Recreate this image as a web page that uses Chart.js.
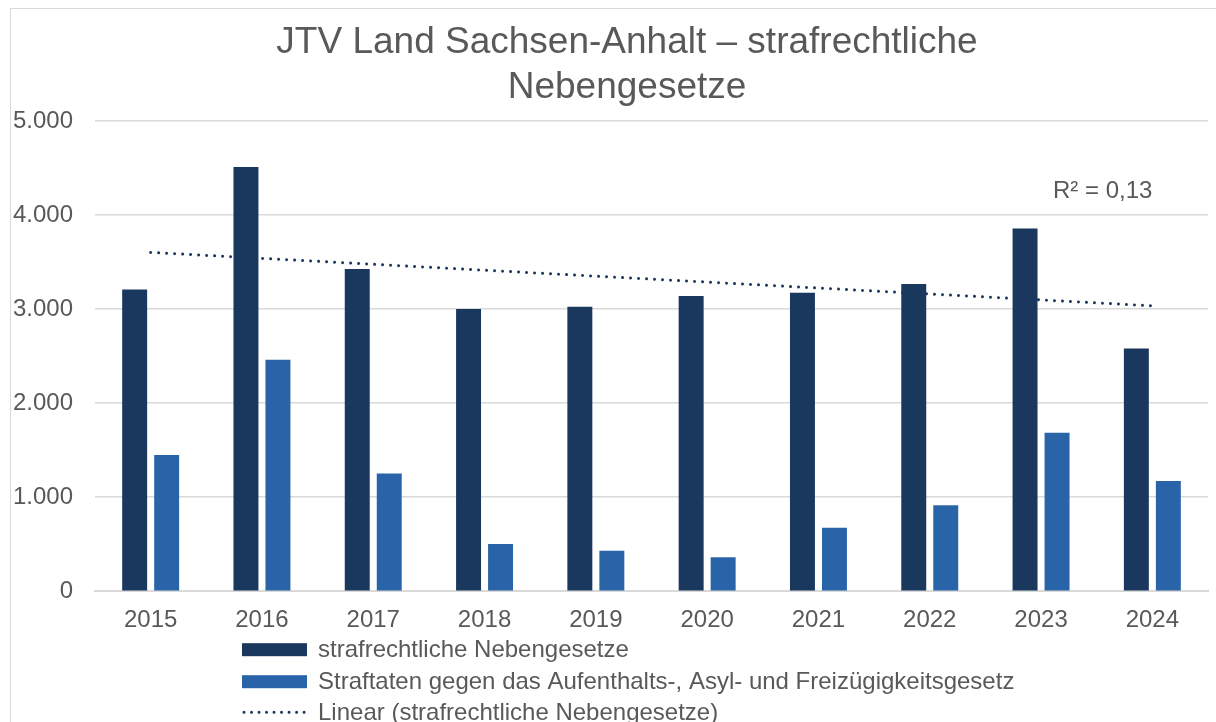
<!DOCTYPE html>
<html lang="de">
<head>
<meta charset="utf-8">
<title>JTV Land Sachsen-Anhalt</title>
<script src="https://cdn.jsdelivr.net/npm/chart.js@4/dist/chart.umd.min.js"></script>
<style>
  html, body { margin: 0; padding: 0; background: #fff; }
  #wrap { width: 1216px; height: 722px; }
</style>
</head>
<body>
<div id="wrap"><canvas id="jtvChart" width="1216" height="722"></canvas></div>
<script>
// Daten
const years = ['2015', '2016', '2017', '2018', '2019', '2020', '2021', '2022', '2023', '2024'];
const nebengesetze = [3209, 4511, 3426, 3002, 3024, 3138, 3173, 3266, 3856, 2580];
const aufenthaltsgesetz = [1448, 2462, 1252, 502, 430, 360, 676, 915, 1686, 1171];
const yTicks = [0, 1000, 2000, 3000, 4000, 5000];

const titleLines = ['JTV Land Sachsen-Anhalt – strafrechtliche', 'Nebengesetze'];
const seriesNames = [
    'strafrechtliche Nebengesetze',
    'Straftaten gegen das Aufenthalts-, Asyl- und Freizügigkeitsgesetz',
    'Linear (strafrechtliche Nebengesetze)'
];

const FONT = "'Liberation Sans', Arial, sans-serif";
const TEXT = '#595959';
const DARK = '#1a375e';
const BLUE = '#2a64a8';

// lineare Trendlinie (kleinste Quadrate) aus der Datenreihe
function linearFit(ys) {
    const n = ys.length;
    const mx = (n - 1) / 2;
    const my = ys.reduce((a, b) => a + b, 0) / n;
    let sxy = 0, sxx = 0, sst = 0;
    ys.forEach((y, i) => {
        sxy += (i - mx) * (y - my);
        sxx += (i - mx) * (i - mx);
        sst += (y - my) * (y - my);
    });
    const slope = sxy / sxx;
    const r2 = (sxy * sxy / sxx) / sst;
    return { values: ys.map((_, i) => my + slope * (i - mx)), r2: r2 };
}
const trend = linearFit(nebengesetze);

function formatDE(v) {
    return String(v).replace(/\B(?=(\d{3})+(?!\d))/g, '.');
}

// Rahmen, Titel, R²-Beschriftung und Legende
const extrasPlugin = {
    id: 'extras',
    beforeDraw(chart) {
        const ctx = chart.ctx;
        ctx.save();
        ctx.strokeStyle = '#d9d9d9';
        ctx.lineWidth = 1;
        ctx.strokeRect(10.5, 8.5, chart.width + 20, chart.height + 20);
        ctx.restore();
    },
    afterDraw(chart) {
        const ctx = chart.ctx;
        const area = chart.chartArea;
        ctx.save();

        // Titel
        ctx.fillStyle = TEXT;
        ctx.font = '37px ' + FONT;
        ctx.textAlign = 'center';
        ctx.textBaseline = 'middle';
        titleLines.forEach((line, i) => {
            ctx.fillText(line, 627, 43 + i * 44.5);
        });

        ctx.font = '24px ' + FONT;
        ctx.textBaseline = 'alphabetic';
        ctx.textAlign = 'left';
        ctx.fillText('R² = ' + trend.r2.toFixed(2).replace('.', ','), 1053, 198);

        // Legende untereinander
        const left = 242;
        const rows = [area.bottom + 58, area.bottom + 90, area.bottom + 121];
        chart.data.datasets.forEach((ds, i) => {
            const y = rows[i];
            if (ds.type === 'line') {
                ctx.strokeStyle = ds.borderColor;
                ctx.lineWidth = 3;
                ctx.lineCap = 'round';
                ctx.setLineDash([0.01, 7.5]);
                ctx.beginPath();
                ctx.moveTo(left + 2, y);
                ctx.lineTo(left + 64, y);
                ctx.stroke();
                ctx.setLineDash([]);
            } else {
                ctx.fillStyle = ds.backgroundColor;
                ctx.fillRect(left, y - 6, 65, 13);
            }
            ctx.fillStyle = TEXT;
            ctx.textBaseline = 'middle';
            ctx.fillText(ds.label, left + 76, y + 1);
        });
        ctx.restore();
    }
};

const ctx = document.getElementById('jtvChart').getContext('2d');
new Chart(ctx, {
    type: 'bar',
    data: {
        labels: years,
        datasets: [
            {
                label: seriesNames[0],
                data: nebengesetze,
                backgroundColor: DARK,
                categoryPercentage: 0.575,
                barPercentage: 0.78,
                order: 1
            },
            {
                label: seriesNames[1],
                data: aufenthaltsgesetz,
                backgroundColor: BLUE,
                categoryPercentage: 0.575,
                barPercentage: 0.78,
                order: 1
            },
            {
                type: 'line',
                label: seriesNames[2],
                data: trend.values,
                borderColor: DARK,
                borderWidth: 3,
                borderDash: [0.01, 8],
                borderCapStyle: 'round',
                pointRadius: 0,
                fill: false,
                order: 2
            }
        ]
    },
    options: {
        responsive: false,
        animation: false,
        layout: {
            padding: { left: 13, right: 8, top: 121, bottom: 73 }
        },
        plugins: {
            legend: { display: false },
            tooltip: { enabled: false },
            title: { display: false }
        },
        scales: {
            x: {
                grid: { display: false, drawTicks: false },
                border: { color: '#d9d9d9', width: 2 },
                ticks: {
                    color: TEXT,
                    font: { family: FONT, size: 24 },
                    padding: 14.5
                }
            },
            y: {
                min: yTicks[0],
                max: yTicks[yTicks.length - 1],
                afterBuildTicks: (axis) => {
                    axis.ticks = yTicks.map(v => ({ value: v }));
                },
                afterFit: (axis) => {
                    axis.width = 82;
                },
                grid: { color: '#d9d9d9', lineWidth: 1.5, drawTicks: false },
                border: { display: false },
                ticks: {
                    color: TEXT,
                    font: { family: FONT, size: 24 },
                    padding: 22,
                    callback: (v) => formatDE(v)
                }
            }
        }
    },
    plugins: [extrasPlugin]
});
</script>
</body>
</html>
